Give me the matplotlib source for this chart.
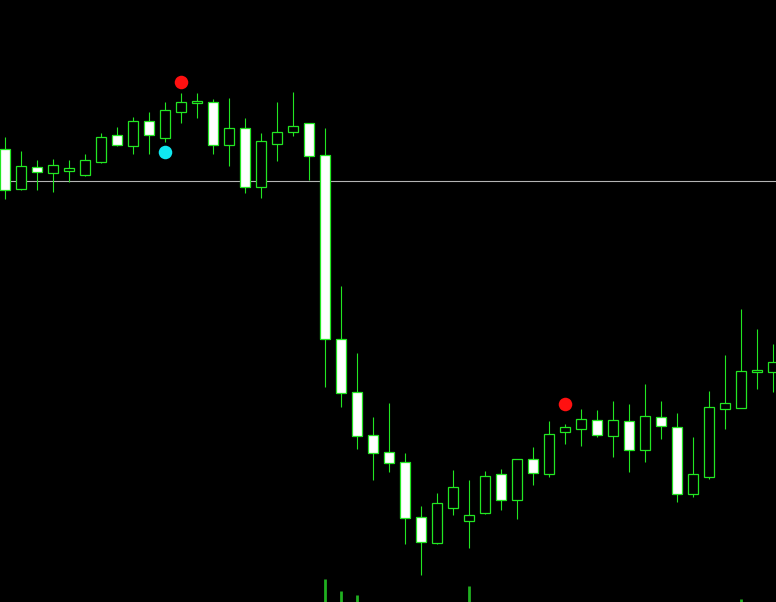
"""Candlestick chart in the MetaTrader green-on-black style."""

from __future__ import annotations

import matplotlib

matplotlib.use("Agg")
import matplotlib.pyplot as plt
import numpy as np

# OHLC prices, oldest bar first
opens = [
    1.10453, 1.10413, 1.10435, 1.10429, 1.10431, 1.10427, 1.10440, 1.10467, 1.10456, 1.10481,
    1.10464, 1.10490, 1.10499, 1.10500, 1.10457, 1.10474, 1.10415, 1.10458, 1.10470, 1.10479,
    1.10447, 1.10263, 1.10210, 1.10167, 1.10150, 1.10140, 1.10085, 1.10059, 1.10094, 1.10081,
    1.10089, 1.10128, 1.10102, 1.10143, 1.10128, 1.10170, 1.10173, 1.10182, 1.10166, 1.10181,
    1.10152, 1.10185, 1.10175, 1.10108, 1.10125, 1.10193, 1.10194, 1.10230, 1.10230,
]
highs = [
    1.10465, 1.10451, 1.10442, 1.10443, 1.10442, 1.10448, 1.10469, 1.10475, 1.10485, 1.10490,
    1.10500, 1.10509, 1.10509, 1.10503, 1.10504, 1.10484, 1.10469, 1.10500, 1.10510, 1.10479,
    1.10474, 1.10316, 1.10249, 1.10185, 1.10199, 1.10149, 1.10096, 1.10109, 1.10132, 1.10122,
    1.10131, 1.10133, 1.10143, 1.10155, 1.10181, 1.10178, 1.10193, 1.10192, 1.10201, 1.10198,
    1.10218, 1.10201, 1.10189, 1.10165, 1.10211, 1.10247, 1.10293, 1.10273, 1.10258,
]
lows = [
    1.10403, 1.10412, 1.10412, 1.10410, 1.10420, 1.10426, 1.10439, 1.10456, 1.10448, 1.10448,
    1.10460, 1.10479, 1.10484, 1.10448, 1.10436, 1.10409, 1.10404, 1.10441, 1.10466, 1.10422,
    1.10215, 1.10195, 1.10153, 1.10122, 1.10130, 1.10058, 1.10027, 1.10058, 1.10087, 1.10054,
    1.10088, 1.10092, 1.10083, 1.10117, 1.10125, 1.10158, 1.10156, 1.10165, 1.10145, 1.10130,
    1.10140, 1.10163, 1.10100, 1.10105, 1.10123, 1.10173, 1.10194, 1.10213, 1.10210,
]
closes = [
    1.10412, 1.10436, 1.10430, 1.10437, 1.10434, 1.10442, 1.10465, 1.10457, 1.10481, 1.10467,
    1.10492, 1.10500, 1.10501, 1.10457, 1.10474, 1.10415, 1.10461, 1.10470, 1.10476, 1.10446,
    1.10263, 1.10209, 1.10166, 1.10149, 1.10139, 1.10084, 1.10060, 1.10099, 1.10115, 1.10087,
    1.10126, 1.10102, 1.10143, 1.10129, 1.10168, 1.10175, 1.10183, 1.10167, 1.10182, 1.10152,
    1.10186, 1.10176, 1.10108, 1.10128, 1.10195, 1.10199, 1.10231, 1.10232, 1.10240,
]

# horizontal level line
level_price = 1.104215

# signal markers (bar index, price)
red_signal_bars = [11, 35]
red_signal_prices = [1.10520, 1.10198]
cyan_signal_bars = [10]
cyan_signal_prices = [1.10450]

# tall spikes of the lower pane poking into view (bar index, top price)
spike_bars = [20, 21, 22, 29, 46]
spike_tops = [1.10023, 1.10011, 1.10007, 1.10016, 1.10003]

BAR_GREEN = "#22e622"
WIDTH_PX, HEIGHT_PX = 776, 602
BAR_STEP_PX = 16
FIRST_BAR_PX = 5


def _draw_candles(ax, x: np.ndarray) -> None:
    o = np.asarray(opens)
    h = np.asarray(highs)
    l = np.asarray(lows)
    c = np.asarray(closes)
    ax.vlines(x, l, h, color=BAR_GREEN, linewidth=0.8, zorder=2)
    bottoms = np.minimum(o, c)
    heights = np.maximum(np.abs(c - o), 0.000005)
    faces = np.where(c < o, "white", "black")
    ax.bar(
        x,
        heights,
        bottom=bottoms,
        width=10 / BAR_STEP_PX,
        color=faces,
        edgecolor=BAR_GREEN,
        linewidth=0.9,
        zorder=3,
    )


def main() -> None:
    fig = plt.figure(figsize=(WIDTH_PX / 100, HEIGHT_PX / 100), dpi=100, facecolor="black")
    ax = fig.add_axes((0, 0, 1, 1))
    ax.set_facecolor("black")

    x = np.arange(len(opens))
    ax.axhline(level_price, color="#b4b4b4", linewidth=0.8, zorder=1)
    _draw_candles(ax, x)

    ax.scatter(red_signal_bars, red_signal_prices, s=95, color="#ff1010", zorder=4, linewidths=0)
    ax.scatter(cyan_signal_bars, cyan_signal_prices, s=95, color="#10e8f0", zorder=4, linewidths=0)

    ax.vlines(spike_bars, 1.09990, spike_tops, color="#20b020", linewidth=2.0, zorder=2)

    ax.set_xlim(-FIRST_BAR_PX / BAR_STEP_PX, (WIDTH_PX - FIRST_BAR_PX) / BAR_STEP_PX)
    ax.set_ylim(1.10000, 1.10000 + HEIGHT_PX * 0.00001)
    ax.axis("off")

    fig.savefig("out.png", dpi=100, facecolor="black")
    plt.close(fig)


if __name__ == "__main__":
    main()
